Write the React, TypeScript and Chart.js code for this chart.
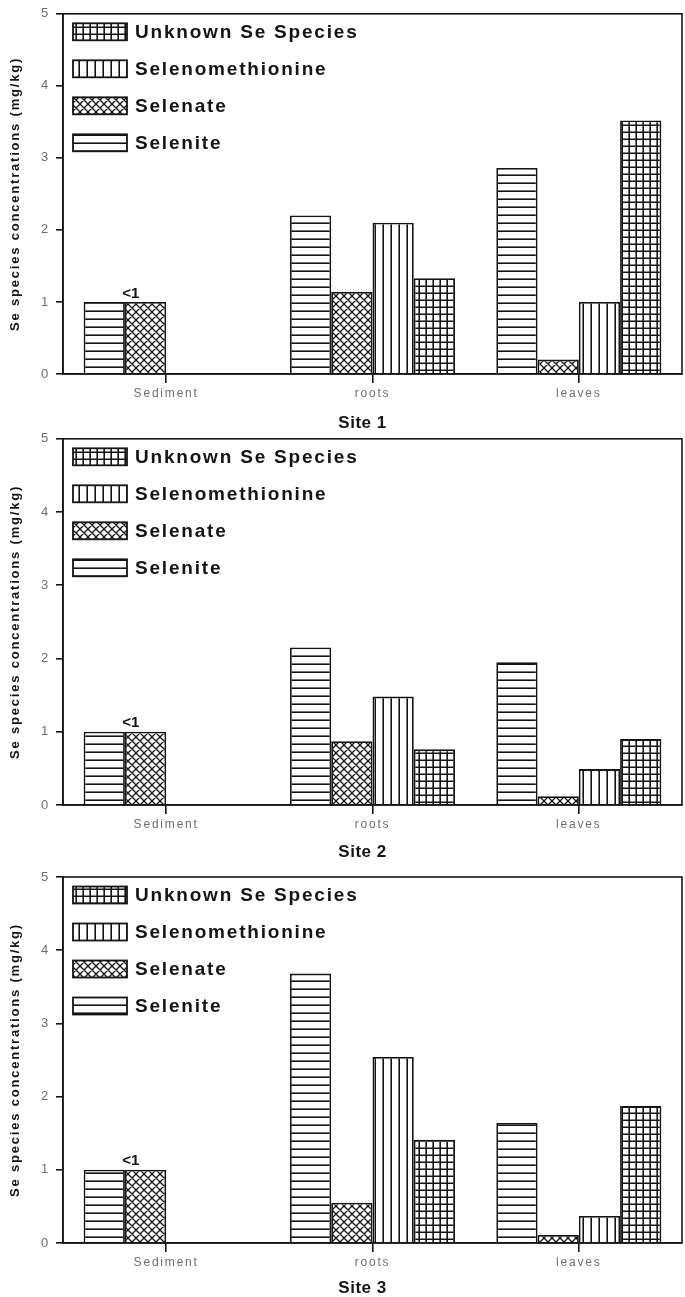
import React, { useEffect, useRef } from 'react';
import { Chart, registerables } from 'chart.js';

Chart.register(...registerables);

// ---------- data ----------
const categories = ['Sediment', 'roots', 'leaves'];
const seriesNames = ['Selenite', 'Selenate', 'Selenomethionine', 'Unknown Se Species'];
const yTicks = [0, 1, 2, 3, 4, 5];
const siteTitles = ['Site 1', 'Site 2', 'Site 3'];
const yTitle = 'Se species concentrations (mg/kg)';
const sedimentNote = '<1';

const site1Selenite = [1, 2.2, 2.86];
const site1Selenate = [1, 1.14, 0.2];
const site1SeMet = [null, 2.1, 1.0];
const site1Unknown = [null, 1.33, 3.52];

const site2Selenite = [1, 2.15, 1.95];
const site2Selenate = [1, 0.87, 0.12];
const site2SeMet = [null, 1.48, 0.49];
const site2Unknown = [null, 0.76, 0.9];

const site3Selenite = [1, 3.68, 1.64];
const site3Selenate = [1, 0.55, 0.11];
const site3SeMet = [null, 2.54, 0.37];
const site3Unknown = [null, 1.41, 1.87];

const siteSeries = [
  [site1Selenite, site1Selenate, site1SeMet, site1Unknown],
  [site2Selenite, site2Selenate, site2SeMet, site2Unknown],
  [site3Selenite, site3Selenate, site3SeMet, site3Unknown],
];

// ---------- layout (not data) ----------
const panels = [
  { top: 0, height: 440, padTop: 10, xH: 66, titleDy: 49 },
  { top: 425, height: 445, padTop: 13, xH: 65, titleDy: 47 },
  { top: 862, height: 435, padTop: 15, xH: 54, titleDy: 45 },
];

const FONT = "'Liberation Sans', Arial, sans-serif";
const INK = '#141414';

function makePattern(kind: string): CanvasPattern | string {
  const s = kind === 'grid' ? 7 : 8;
  const c = document.createElement('canvas');
  c.width = s;
  c.height = s;
  const g = c.getContext('2d');
  if (!g) return '#fff';
  g.fillStyle = '#ffffff';
  g.fillRect(0, 0, s, s);
  g.strokeStyle = INK;
  g.lineWidth = 1.6;
  g.beginPath();
  if (kind === 'h') {
    g.moveTo(0, s - 0.8);
    g.lineTo(s, s - 0.8);
  } else if (kind === 'v') {
    g.moveTo(s - 0.8, 0);
    g.lineTo(s - 0.8, s);
  } else if (kind === 'grid') {
    g.moveTo(0, s - 0.8);
    g.lineTo(s, s - 0.8);
    g.moveTo(s - 0.8, 0);
    g.lineTo(s - 0.8, s);
  } else if (kind === 'x') {
    g.lineWidth = 1.3;
    for (let k = -1; k <= 1; k++) {
      g.moveTo(k * s - 1, -1);
      g.lineTo(k * s + s + 1, s + 1);
      g.moveTo(k * s + s + 1, -1);
      g.lineTo(k * s - 1, s + 1);
    }
  }
  g.stroke();
  const p = g.createPattern(c, 'repeat');
  return p || '#fff';
}

const framePlugin = {
  id: 'frameLegend',
  beforeDraw(chart: any) {
    chart.ctx.letterSpacing = '1.8px';
  },
  afterDatasetsDraw(chart: any, _args: any, opts: any) {
    const { ctx, chartArea } = chart;
    ctx.save();
    ctx.letterSpacing = '0px';
    ctx.strokeStyle = INK;
    ctx.lineWidth = 1.6;
    ctx.strokeRect(chartArea.left, chartArea.top, chartArea.right - chartArea.left, chartArea.bottom - chartArea.top);

    // "<1" note above the sediment bars
    const m0 = chart.getDatasetMeta(0).data[0];
    const m1 = chart.getDatasetMeta(1).data[0];
    if (m0 && m1) {
      ctx.fillStyle = INK;
      ctx.font = `bold 15px ${FONT}`;
      ctx.textAlign = 'center';
      ctx.textBaseline = 'bottom';
      ctx.fillText(sedimentNote, (m0.x + m1.x) / 2 + 6, Math.min(m0.y, m1.y) - 1);
    }

    // site title under the x axis
    ctx.font = `bold 17px ${FONT}`;
    ctx.letterSpacing = '0.5px';
    ctx.textAlign = 'center';
    ctx.textBaseline = 'middle';
    ctx.fillStyle = INK;
    ctx.fillText(opts.title, (chartArea.left + chartArea.right) / 2 - 10, chartArea.bottom + opts.titleDy);

    // legend (inside plot, top-left), reversed order
    const ds = chart.data.datasets;
    const x0 = chartArea.left + 10;
    let y = chartArea.top + 18;
    ctx.letterSpacing = '1.8px';
    for (let i = ds.length - 1; i >= 0; i--) {
      const bw = 54;
      const bh = 17;
      ctx.fillStyle = ds[i].backgroundColor;
      ctx.fillRect(x0, y - bh / 2, bw, bh);
      ctx.strokeStyle = INK;
      ctx.lineWidth = 1.8;
      ctx.strokeRect(x0, y - bh / 2, bw, bh);
      ctx.fillStyle = INK;
      ctx.font = `bold 19px ${FONT}`;
      ctx.textAlign = 'left';
      ctx.textBaseline = 'middle';
      ctx.fillText(ds[i].label, x0 + bw + 8, y + 1);
      y += 37;
    }
    ctx.restore();
  },
};

function Panel({ index }: { index: number }) {
  const ref = useRef<HTMLCanvasElement | null>(null);
  const p = panels[index];
  useEffect(() => {
    if (!ref.current) return;
    const patterns = [makePattern('h'), makePattern('x'), makePattern('v'), makePattern('grid')];
    const chart = new Chart(ref.current, {
      type: 'bar',
      data: {
        labels: categories,
        datasets: siteSeries[index].map((vals, i) => ({
          label: seriesNames[i],
          data: vals,
          backgroundColor: patterns[i] as any,
          borderColor: INK,
          borderWidth: 1.8,
          categoryPercentage: 0.8,
          barPercentage: 1,
        })),
      },
      options: {
        responsive: false,
        animation: false,
        layout: { padding: { top: p.padTop, right: 3, left: 0, bottom: 0 } },
        plugins: {
          legend: { display: false },
          tooltip: { enabled: false },
          frameLegend: { title: siteTitles[index], titleDy: p.titleDy },
        },
        scales: {
          x: {
            grid: { display: true, drawOnChartArea: false, offset: false, tickLength: 9, color: INK, lineWidth: 1.6 },
            border: { display: true, color: INK, width: 1.6 },
            ticks: { color: '#6e6e6e', font: { family: FONT, size: 12 }, padding: 3 },
            afterFit: (s: any) => {
              s.height = p.xH;
            },
          },
          y: {
            min: 0,
            max: 5,
            afterBuildTicks: (s: any) => {
              s.ticks = yTicks.map((v) => ({ value: v }));
            },
            grid: { display: true, drawOnChartArea: false, tickLength: 7, color: INK, lineWidth: 1.6 },
            border: { display: true, color: INK, width: 1.6 },
            ticks: { color: '#6e6e6e', font: { family: FONT, size: 13 }, padding: 6 },
            title: {
              display: true,
              text: yTitle,
              color: INK,
              font: { family: FONT, size: 13, weight: 'bold' },
              padding: { top: 8, bottom: 0 },
            },
            afterFit: (s: any) => {
              s.width = 63;
            },
          },
        },
      } as any,
      plugins: [framePlugin],
    });
    return () => chart.destroy();
  }, [index]);
  return (
    <canvas
      ref={ref}
      width={685}
      height={p.height}
      style={{ position: 'absolute', left: 0, top: p.top, width: 685, height: p.height, display: 'block' }}
    />
  );
}

export default function App() {
  return (
    <div style={{ position: 'absolute', left: 0, top: 0, width: 685, height: 1297, background: '#fff', overflow: 'hidden' }}>
      <Panel index={0} />
      <Panel index={1} />
      <Panel index={2} />
    </div>
  );
}
